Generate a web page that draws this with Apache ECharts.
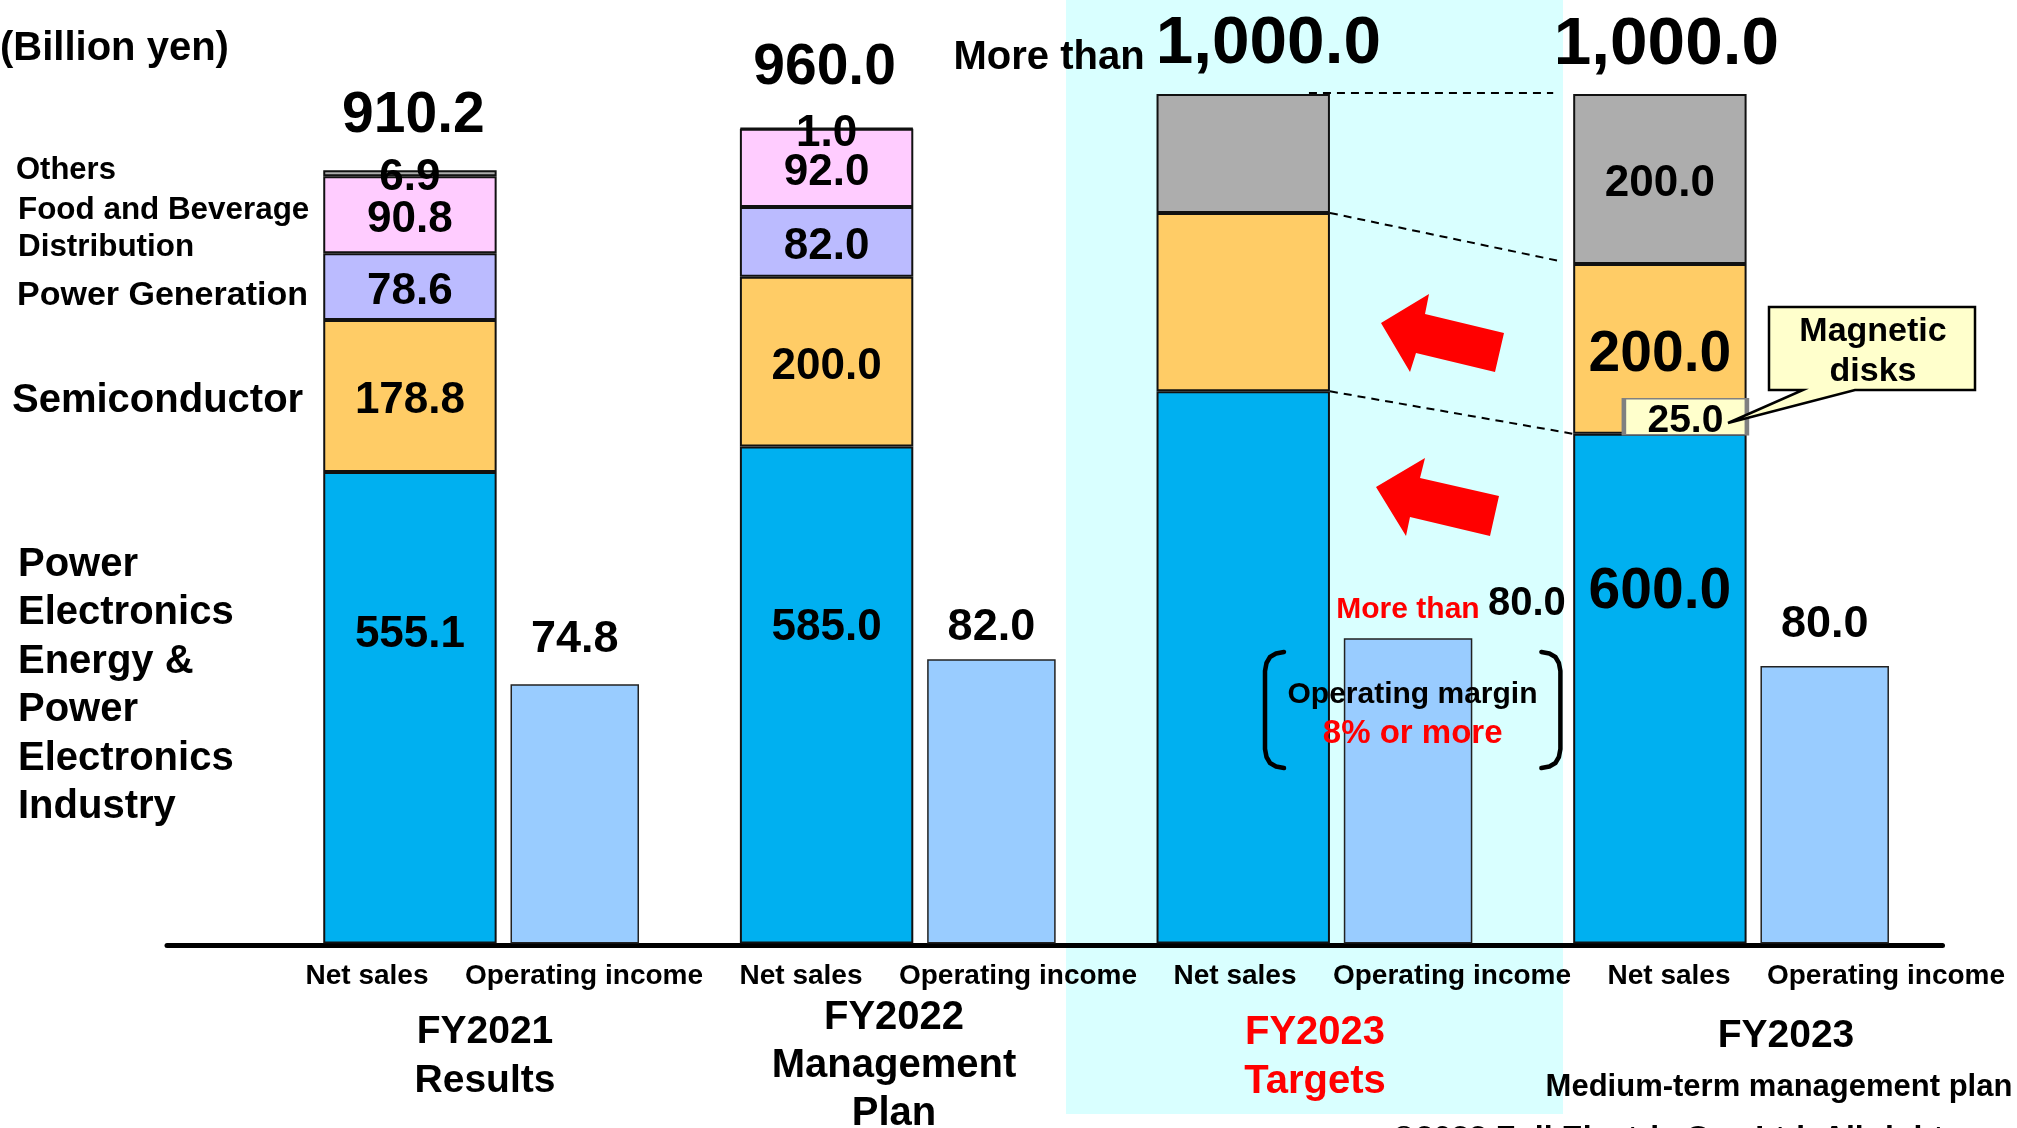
<!DOCTYPE html>
<html>
<head>
<meta charset="utf-8">
<script src="https://cdn.jsdelivr.net/npm/echarts@6/dist/echarts.min.js"></script>
<style>
  html, body { margin: 0; padding: 0; background: #fff; }
  #chart { width: 2017px; height: 1128px; }
</style>
</head>
<body>
<div id="chart"></div>
<script>
// Fiscal-year groups on the bar axis
const groups = ['FY2021 Results', 'FY2022 Management Plan', 'FY2023 Targets', 'FY2023 Medium-term management plan'];

// Net sales by segment (billion yen)
const peEnergyIndustry = [555.1, 585.0, 650.0, 600.0];
const semiconductor    = [178.8, 200.0, 210.0, 200.0];
const powerGeneration  = [78.6, 82.0, null, null];
const foodBeverage     = [90.8, 92.0, null, null];
const others           = [6.9, 1.0, 140.0, 200.0];
const netSalesTotal    = [910.2, 960.0, 1000.0, 1000.0];

// Operating income (billion yen)
const operatingIncome  = [74.8, 82.0, 88.0, 80.0];

// Magnetic disks share inside the semiconductor plan
const magneticDisks = 25.0;

// Texts under the axis
const barKinds = ['Net sales', 'Operating income'];
const groupTitles = [['FY2021', 'Results'], ['FY2022', 'Management', 'Plan'], ['FY2023', 'Targets'], ['FY2023', 'Medium-term management plan']];

// Segment names shown at the left of the first stack
const segmentNames = ['Power Electronics Energy & Power Electronics Industry', 'Semiconductor', 'Power Generation', 'Food and Beverage Distribution', 'Others'];
const segmentSideText = [
  'Power\nElectronics\nEnergy &\nPower\nElectronics\nIndustry',
  'Semiconductor', 'Power Generation', 'Food and Beverage\nDistribution', 'Others'
];

// ---- styling / layout ----
const FONT = '"Liberation Sans", Arial, Helvetica, sans-serif';
const bold = (px) => 'bold ' + px + 'px ' + FONT;
const segmentColors = ['#00B0F0', '#FFCC66', '#BBBBFF', '#FFCCFF', '#ADADAD'];
const NET_W = 173.4, OP_W = 128.5, BAR_GAP = '8%';
const TARGET = 2, PLAN = 3;

const fmt = (v) => Number(v).toLocaleString('en-US', { minimumFractionDigits: 1, maximumFractionDigits: 1 });

const valueText = (size) => ({
  color: '#000', fontSize: size, fontWeight: 'bold', fontFamily: FONT,
  textBorderWidth: 0, textShadowBlur: 0
});

// distance of the first segment's label below its top edge
const peLabelDrop = [140.5, 159.5, 0, 129.5];

const segmentValues = [peEnergyIndustry, semiconductor, powerGeneration, foodBeverage, others];

function segmentSeries(k) {
  const s = {
    name: segmentNames[k],
    type: 'bar',
    stack: 'net',
    xAxisIndex: 0, yAxisIndex: 0,
    barWidth: NET_W, barGap: BAR_GAP,
    itemStyle: { color: segmentColors[k], borderColor: '#111', borderWidth: 2 },
    label: Object.assign({ show: true, position: 'inside', offset: [0, 5], formatter: (p) => fmt(p.value) }, valueText(44)),
    data: segmentValues[k].map((v, i) => {
      if (v == null) return '-';
      const item = { value: v };
      if (i === TARGET) item.label = { show: false };
      else if (k === 0) item.label = { position: 'insideTop', offset: [0, 0], distance: peLabelDrop[i], fontSize: i === PLAN ? 57 : 44 };
      else if (k === 1 && i === PLAN) item.label = { fontSize: 57, offset: [0, 6] };
      return item;
    })
  };
  if (k === 1) {
    s.markPoint = {
      silent: true,
      animation: false,
      data: [{
        coord: [PLAN, peEnergyIndustry[PLAN]],
        value: magneticDisks,
        symbol: 'rect',
        symbolSize: [123, 36],
        symbolOffset: [25.5, -17],
        itemStyle: { color: '#FFFFCC', borderColor: '#808080', borderWidth: 2.5 },
        label: Object.assign({ show: true, position: 'inside', offset: [0, 4], formatter: (p) => fmt(p.value) }, valueText(39))
      }]
    };
  }
  return s;
}

// labels above the stacks (total net sales)
const totalLabel = [
  { fontSize: 57, distance: 26, offset: [3.5, 0] },
  { fontSize: 57, distance: 31, offset: [-2, 0] },
  { distance: 16, offset: [-76, 0], formatter: (p) => '{m|More than }{v|' + fmt(netSalesTotal[p.dataIndex]) + '}' },
  { fontSize: 67.5, distance: 14.5, offset: [6.5, 0] }
];

const totalSeries = {
  name: 'Net sales total',
  type: 'bar',
  stack: 'net',
  xAxisIndex: 0, yAxisIndex: 0,
  barWidth: NET_W, barGap: BAR_GAP,
  itemStyle: { color: 'rgba(0,0,0,0)', borderWidth: 0 },
  label: Object.assign({
    show: true, position: 'top',
    formatter: (p) => fmt(netSalesTotal[p.dataIndex]),
    rich: {
      m: { fontSize: 40, fontWeight: 'bold', fontFamily: FONT, color: '#000', verticalAlign: 'bottom' },
      v: { fontSize: 67.5, fontWeight: 'bold', fontFamily: FONT, color: '#000', verticalAlign: 'bottom' }
    }
  }, valueText(57)),
  data: netSalesTotal.map((t, i) => ({ value: 0, label: totalLabel[i] }))
};

const opLabel = [
  { distance: 22 },
  { distance: 9 },
  { distance: 14, offset: [43, 0], formatter: (p) => '{r|More than }{v|' + fmt(p.value > 80 ? 80 : p.value) + '}' },
  { distance: 19.5 }
];

const opSeries = {
  name: 'Operating income',
  type: 'bar',
  xAxisIndex: 0, yAxisIndex: 1,
  barWidth: OP_W, barGap: BAR_GAP,
  itemStyle: { color: '#99CCFF', borderColor: '#222', borderWidth: 1.5 },
  label: Object.assign({
    show: true, position: 'top',
    formatter: (p) => fmt(p.value),
    rich: {
      r: { fontSize: 30, fontWeight: 'bold', fontFamily: FONT, color: '#FF0000', verticalAlign: 'bottom' },
      v: { fontSize: 40, fontWeight: 'bold', fontFamily: FONT, color: '#000', verticalAlign: 'bottom' }
    }
  }, valueText(45)),
  data: operatingIncome.map((v, i) => ({ value: v, label: opLabel[i] }))
};

// ---- annotations ----
const sideTextPos = [
  { x: 18, y: 686, size: 40, lh: 48.4 },
  { x: 12, y: 401, size: 40, lh: 40 },
  { x: 17, y: 296, size: 34, lh: 34 },
  { x: 18, y: 228.5, size: 31.4, lh: 37 },
  { x: 16, y: 170, size: 31, lh: 31 }
];

const titlePos = [
  { x: 485, y: 1056.5, size: 39, lh: 49, color: '#000' },
  { x: 894, y: 1066, size: 40, lh: 48, color: '#000' },
  { x: 1315, y: 1057.5, size: 40, lh: 49, color: '#FF0000' }
];

function textEl(id, text, x, y, size, opts) {
  opts = opts || {};
  return {
    type: 'text', id: id, z: 20, silent: true,
    x: x, y: y,
    style: {
      text: text, font: bold(size), fill: opts.color || '#000',
      align: opts.align || 'left', textAlign: opts.align || 'left',
      verticalAlign: 'middle', textVerticalAlign: 'middle',
      lineHeight: opts.lh || size
    }
  };
}

const graphics = [];
// highlighted target column band
graphics.push({ type: 'rect', id: 'band', z: -10, silent: true, shape: { x: 1066, y: 0, width: 497, height: 1114 }, style: { fill: '#D9FFFF' } });
graphics.push(textEl('unit', '(Billion yen)', 0, 49, 40));
segmentSideText.forEach((t, k) => {
  const p = sideTextPos[k];
  graphics.push(textEl('side' + k, t, p.x, p.y, p.size, { lh: p.lh }));
});
groupTitles.slice(0, 3).forEach((lines, i) => {
  const p = titlePos[i];
  graphics.push(textEl('title' + i, lines.join('\n'), p.x, p.y, p.size, { lh: p.lh, align: 'center', color: p.color }));
});
graphics.push(textEl('title3a', groupTitles[3][0], 1786, 1036, 39, { align: 'center' }));
graphics.push(textEl('title3b', groupTitles[3][1], 1779, 1087, 31, { align: 'center' }));
graphics.push(textEl('copyright', '\u00A92022 Fuji Electric Co., Ltd. All rights reserved.', 1392, 1139, 32));

// red arrows pointing from the plan toward the targets
graphics.push({ type: 'polygon', id: 'arrowUp', z: 15, silent: true,
  shape: { points: [[1381, 323], [1429, 294], [1425, 314], [1504, 333], [1495, 372], [1416, 353], [1410, 372]] },
  style: { fill: '#FF0000' } });
graphics.push({ type: 'polygon', id: 'arrowDown', z: 15, silent: true,
  shape: { points: [[1376, 487], [1425, 458], [1420, 478], [1499, 496], [1490, 536], [1410, 517], [1406, 536]] },
  style: { fill: '#FF0000' } });

// parentheses around the operating margin note
const leftBracket = [[1284, 652], [1276, 653.5], [1270, 657], [1266.5, 663], [1265, 671], [1265, 749], [1266.5, 757], [1270, 763], [1276, 766.5], [1284, 768]];
const rightBracket = leftBracket.map(([x, y]) => [2825.4 - x, y]);
graphics.push({ type: 'polyline', id: 'bracketL', z: 15, silent: true, shape: { points: leftBracket }, style: { stroke: '#000', lineWidth: 4.5, fill: null, lineJoin: 'round', lineCap: 'round' } });
graphics.push({ type: 'polyline', id: 'bracketR', z: 15, silent: true, shape: { points: rightBracket }, style: { stroke: '#000', lineWidth: 4.5, fill: null, lineJoin: 'round', lineCap: 'round' } });
graphics.push(textEl('marginA', 'Operating margin', 1412.5, 695, 30, { align: 'center' }));
graphics.push(textEl('marginB', '8% or more', 1412.7, 734, 33, { align: 'center', color: '#FF0000' }));

// callout for the magnetic disks share
graphics.push({ type: 'polygon', id: 'callout', z: 15, silent: true,
  shape: { points: [[1769, 307], [1975, 307], [1975, 390], [1855, 390], [1728, 423], [1803, 390], [1769, 390]] },
  style: { fill: '#FFFFCC', stroke: '#000', lineWidth: 2.5, lineJoin: 'miter' } });
graphics.push(textEl('calloutText', 'Magnetic\ndisks', 1873, 352, 34, { align: 'center', lh: 40 }));

const chart = echarts.init(document.getElementById('chart'), null, { renderer: 'canvas', width: 2017, height: 1128 });

const option = {
  backgroundColor: '#ffffff',
  animation: false,
  grid: [
    { left: 272.8, right: 77.6, top: 94, bottom: 184.5, outerBoundsMode: 'none' },
    { left: 258.5, right: 22.5, top: 94, bottom: 183, outerBoundsMode: 'none' },
    { left: 167, right: 74.5, top: 94, bottom: 182.5, outerBoundsMode: 'none' }
  ],
  xAxis: [
    { gridIndex: 0, type: 'category', data: groups, axisLine: { show: false }, axisTick: { show: false }, axisLabel: { show: false }, splitLine: { show: false } },
    { gridIndex: 1, type: 'category', data: groups.flatMap(() => barKinds),
      axisLine: { show: false }, axisTick: { show: false }, splitLine: { show: false },
      axisLabel: { show: true, interval: 0, margin: 17, color: '#000', fontSize: 28, fontWeight: 'bold', fontFamily: FONT } },
    { gridIndex: 2, type: 'value', min: 0, max: 1,
      axisLine: { show: true, onZero: false, lineStyle: { color: '#000', width: 5 } },
      axisTick: { show: false }, axisLabel: { show: false }, splitLine: { show: false } }
  ],
  yAxis: [
    { gridIndex: 0, type: 'value', min: 0, max: 1000, show: false },
    { gridIndex: 0, type: 'value', min: 0, max: 245, show: false },
    { gridIndex: 1, type: 'value', min: 0, max: 1, show: false },
    { gridIndex: 2, type: 'value', min: 0, max: 1, show: false }
  ],
  series: [0, 1, 2, 3, 4].map(segmentSeries).concat([totalSeries, opSeries]),
  graphic: { elements: graphics }
};

chart.setOption(option);

// dashed guides linking the target stack to the plan stack
function barRect(seriesIndex, dataIndex) {
  const l = chart.getModel().getSeriesByIndex(seriesIndex).getData().getItemLayout(dataIndex);
  return { left: l.x, right: l.x + l.width, top: Math.min(l.y, l.y + l.height), bottom: Math.max(l.y, l.y + l.height) };
}
try {
  const tPE = barRect(0, TARGET), pPE = barRect(0, PLAN);
  const tSemi = barRect(1, TARGET), pSemi = barRect(1, PLAN);
  const tOth = barRect(4, TARGET);
  const dash = { stroke: '#000', lineWidth: 2, lineDash: [8, 6] };
  const frac = 0.94;
  const dashed = [
    { type: 'line', id: 'dash1', z: 12, silent: true, shape: { x1: tPE.right - 21, y1: tOth.top - 1, x2: pPE.left - 20, y2: tOth.top - 1 }, style: dash },
    { type: 'line', id: 'dash2', z: 12, silent: true, shape: { x1: tSemi.right, y1: tSemi.top, x2: tSemi.right + frac * (pSemi.left - tSemi.right), y2: tSemi.top + frac * (pSemi.top - tSemi.top) }, style: dash },
    { type: 'line', id: 'dash3', z: 12, silent: true, shape: { x1: tPE.right, y1: tPE.top, x2: pPE.left, y2: pPE.top }, style: dash }
  ];
  chart.setOption({ graphic: { elements: dashed } });
} catch (e) {
  console.error(e);
}
</script>
</body>
</html>
